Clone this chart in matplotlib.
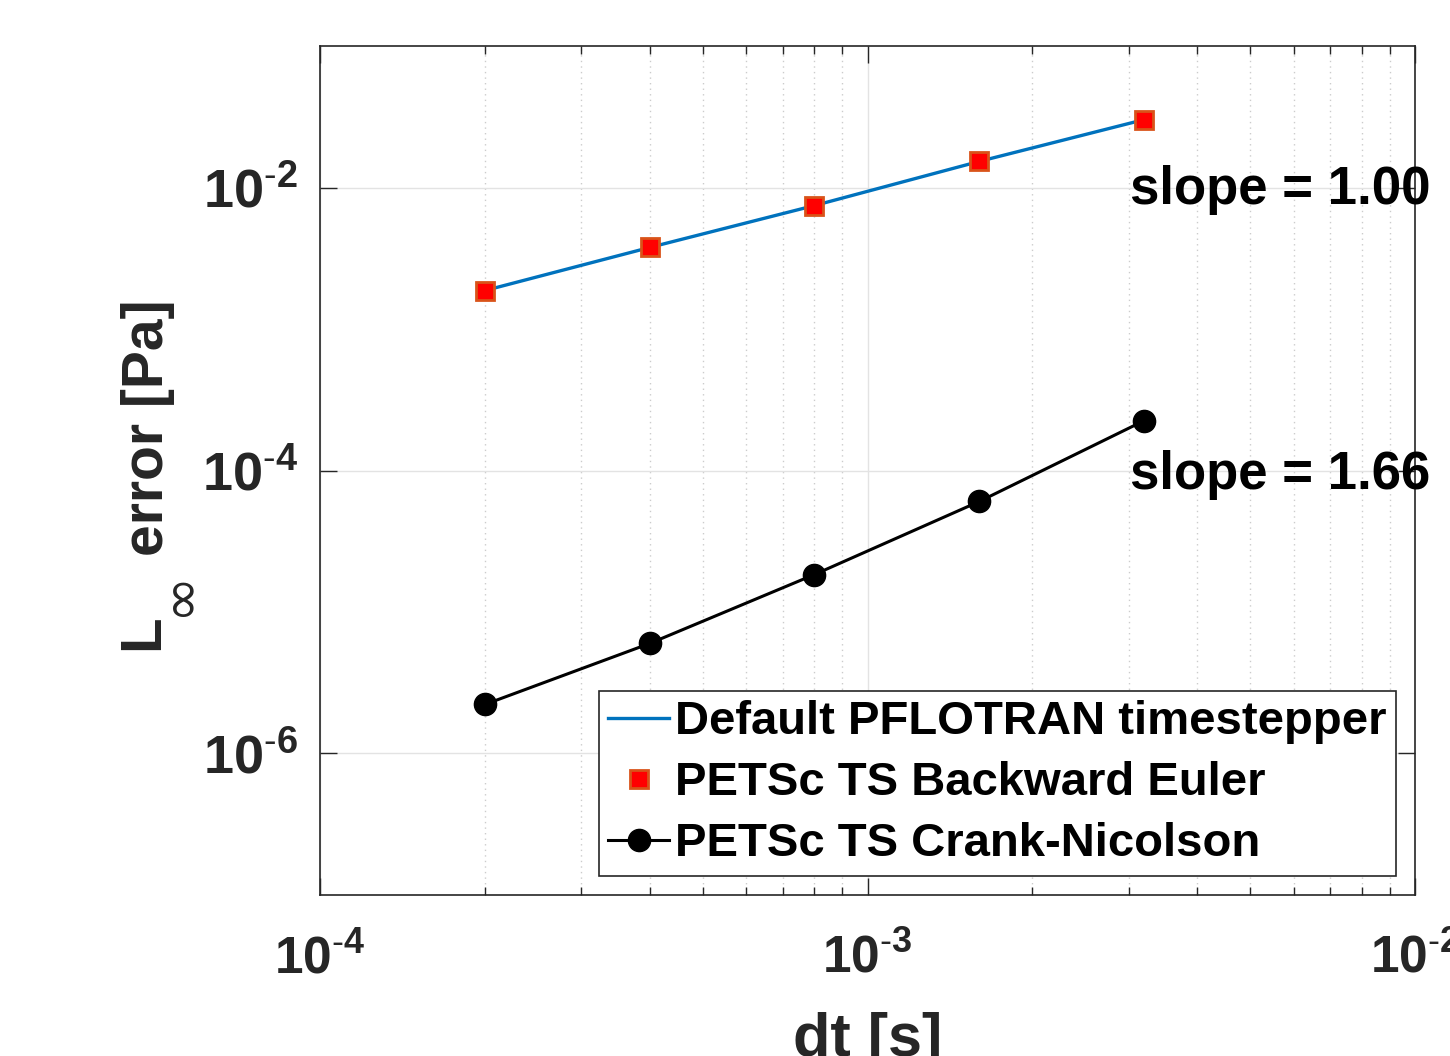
#!/usr/bin/env python3
"""Convergence plot: L-infinity error vs timestep for PFLOTRAN / PETSc TS."""

import math

import matplotlib

matplotlib.use("Agg")
import matplotlib.pyplot as plt
from matplotlib import font_manager
from matplotlib.ticker import LogLocator, NullLocator, NullFormatter

dt = [2e-4, 4e-4, 8e-4, 1.6e-3, 3.2e-3]
err_default = [1.87e-3, 3.77e-3, 7.46e-3, 1.53e-2, 3.02e-2]
err_be = [1.87e-3, 3.77e-3, 7.46e-3, 1.53e-2, 3.02e-2]
err_cn = [2.22e-6, 5.99e-6, 1.84e-5, 6.04e-5, 2.25e-4]

labels = [
    "Default PFLOTRAN timestepper",
    "PETSc TS Backward Euler",
    "PETSc TS Crank-Nicolson",
]
slope_labels = ["slope = 1.00", "slope = 1.66"]
yticks = [1e-6, 1e-4, 1e-2]
xticks = [1e-4, 1e-3, 1e-2]

BLUE = "#0072BD"
ORANGE = "#D95319"
AXCOL = "#262626"
W, H = 1450, 1056

names = {f.name for f in font_manager.fontManager.ttflist}
HAS_NARROW = "Liberation Sans Narrow" in names
NARROW = "Liberation Sans Narrow" if HAS_NARROW else "Liberation Sans"

plt.rcParams["font.family"] = ["Liberation Sans", "DejaVu Sans"]
plt.rcParams["mathtext.fontset"] = "custom"
plt.rcParams["mathtext.rm"] = "Liberation Sans"
plt.rcParams["mathtext.bf"] = "Liberation Sans:bold"
plt.rcParams["mathtext.sf"] = NARROW + ":bold"

fig = plt.figure(figsize=(W / 100, H / 100), dpi=100)
ax = fig.add_axes([0.2207, 0.1525, 0.7552, 0.8039])

ax.plot(dt, err_default, color=BLUE, lw=2.4, label=labels[0], zorder=3)
ax.plot(dt, err_be, ls="none", marker="s", ms=13, mfc="red", mec=ORANGE,
        mew=2, label=labels[1], zorder=4)
ax.plot(dt, err_cn, color="black", lw=2.2, marker="o", ms=16, mfc="black",
        mec="black", label=labels[2], zorder=4)

ax.set_xscale("log")
ax.set_yscale("log")
ax.set_xlim(1e-4, 1e-2)
ax.set_ylim(1e-7, 1e-1)


def exp_label(v, style):
    e = abs(int(round(math.log10(v))))
    return r"$\%s{10^{\text{-}%d}}$" % (style, e)


ax.set_yticks(yticks)
ax.yaxis.set_minor_locator(NullLocator())
ax.set_yticklabels([exp_label(v, "mathbf") for v in yticks])
ax.set_xticks(xticks)
ax.set_xticklabels([exp_label(v, "mathsf" if HAS_NARROW else "mathbf") for v in xticks])
ax.xaxis.set_minor_locator(LogLocator(base=10, subs=range(2, 10), numticks=20))
ax.xaxis.set_minor_formatter(NullFormatter())

ax.tick_params(which="both", direction="in", top=True, right=True,
               colors=AXCOL, width=1)
ax.tick_params(which="major", length=12)
ax.tick_params(which="minor", length=6)
ax.tick_params(axis="y", labelsize=39, pad=16)
ax.tick_params(axis="x", labelsize=44 if HAS_NARROW else 37, pad=28)

ax.grid(True, which="major", color="#e3e3e3", lw=1, ls="-")
ax.grid(True, which="minor", axis="x", color="#cccccc", lw=1, ls=(0, (1, 3)))
ax.set_axisbelow(True)
for sp in ax.spines.values():
    sp.set_color(AXCOL)
    sp.set_linewidth(1.2)

ax.set_xlabel("dt [s]", fontsize=46 if HAS_NARROW else 44, fontweight="bold",
              color=AXCOL, labelpad=20, family=NARROW)

# y label in pieces so the infinity subscript can be large and thin
fig.text(143 / W, 1 - 650 / H, "L", rotation=90, fontsize=42, fontweight="bold",
         color=AXCOL, ha="center", va="bottom")
fig.text(179 / W, 1 - 616 / H, "\u221e", rotation=90, fontsize=40,
         fontweight="normal", color=AXCOL, ha="center", va="bottom",
         family=["DejaVu Sans"])
fig.text(148 / W, 1 - 556 / H, "error [Pa]", rotation=90, fontsize=41,
         fontweight="bold", color=AXCOL, ha="center", va="bottom")

ax.text(0.74, 0.83, slope_labels[0], transform=ax.transAxes, fontsize=38,
        fontweight="bold", va="center", ha="left", clip_on=False, zorder=6)
ax.text(0.74, 0.495, slope_labels[1], transform=ax.transAxes, fontsize=38,
        fontweight="bold", va="center", ha="left", clip_on=False, zorder=6)

leg = ax.legend(loc="lower right", bbox_to_anchor=(0.9826, 0.0224),
                prop={"size": 34, "weight": "bold"}, frameon=True,
                fancybox=False, edgecolor=AXCOL, framealpha=1,
                handlelength=1.3, handletextpad=0.12, borderpad=0.2,
                labelspacing=0.36, borderaxespad=0)
leg.get_frame().set_linewidth(1.2)

fig.savefig("out.png", dpi=100)
